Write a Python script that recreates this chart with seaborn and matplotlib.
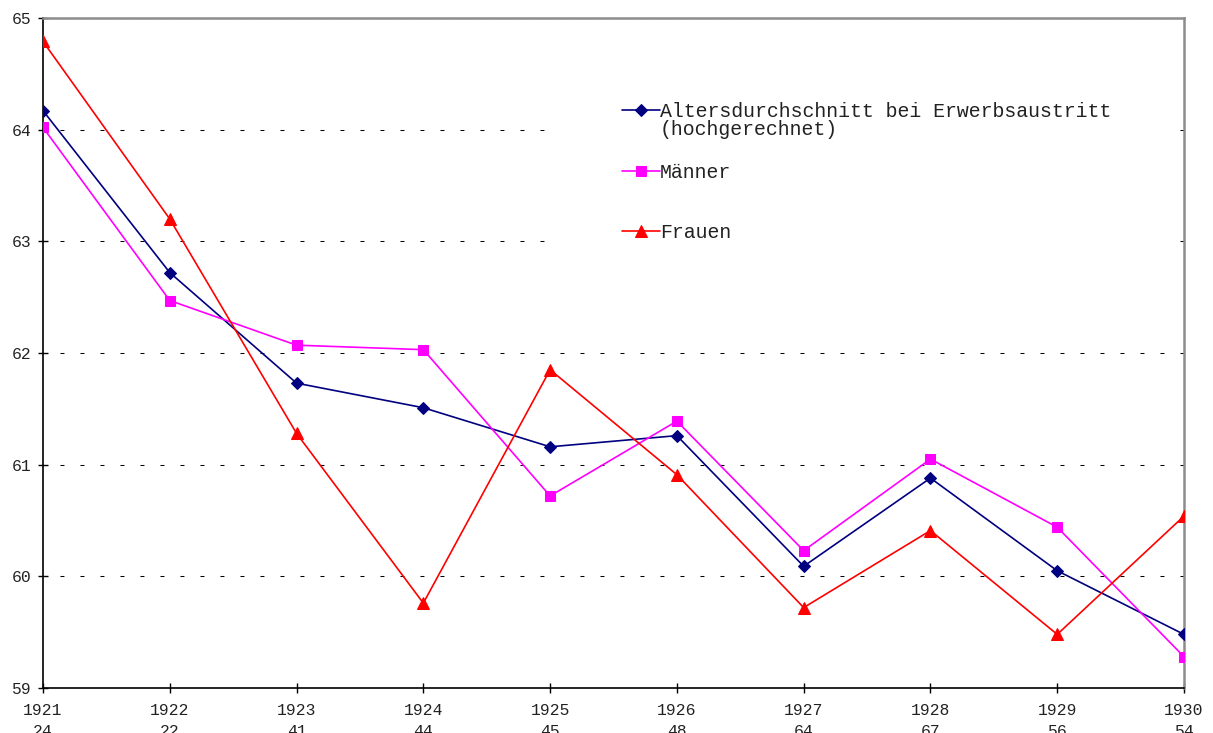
import matplotlib
matplotlib.use("Agg")
import matplotlib.pyplot as plt
from matplotlib.patches import Rectangle
import seaborn as sns
import pandas as pd

years = ["1921", "1922", "1923", "1924", "1925", "1926", "1927", "1928", "1929", "1930"]
counts = ["24", "22", "41", "44", "45", "48", "64", "67", "56", "54"]
durchschnitt = [64.17, 62.72, 61.73, 61.51, 61.16, 61.26, 60.09, 60.88, 60.05, 59.48]
maenner = [64.02, 62.47, 62.07, 62.03, 60.72, 61.39, 60.23, 61.05, 60.44, 59.28]
frauen = [64.79, 63.20, 61.28, 59.76, 61.85, 60.91, 59.72, 60.41, 59.48, 60.54]

labels = [f"{y}\n{c}" for y, c in zip(years, counts)]

sns.set_theme(style="white")
plt.rcParams['font.family'] = ['Liberation Mono', 'DejaVu Sans']

W, H = 1213, 733
fig = plt.figure(figsize=(W / 100, H / 100), dpi=100)
ax = fig.add_axes([43 / W, 1 - 688 / H, (1184 - 43) / W, (688 - 18) / H])

series = [
    ("Altersdurchschnitt bei Erwerbsaustritt", durchschnitt, "#000080", "D", 6),
    ("Männer", maenner, "#FF00FF", "s", 7.5),
    ("Frauen", frauen, "#FF0000", "^", 8),
]
for name, vals, col, mk, ms in series:
    df = pd.DataFrame({"x": labels, "y": vals})
    sns.lineplot(data=df, x="x", y="y", ax=ax, color=col, marker=mk,
                 markersize=ms, markeredgecolor=col, linewidth=1.2,
                 label=name, sort=False, zorder=3)

ax.set_xlim(0, 9)
ax.set_ylim(59, 65)
ax.set_yticks(range(59, 66))
ax.set_xlabel("")
ax.set_ylabel("")

ax.yaxis.grid(True, color="black", linestyle=(2.9, (3.8, 15.4)), linewidth=0.75)
ax.xaxis.grid(False)
ax.set_axisbelow(True)

# white legend background hiding the gridlines behind it
ax.add_patch(Rectangle((558 / W, 1 - 250 / H), (1173 - 558) / W, (250 - 85) / H,
                       transform=fig.transFigure, facecolor="white",
                       edgecolor="none", zorder=1))

for s in ["left", "bottom"]:
    ax.spines[s].set_color("black")
    ax.spines[s].set_linewidth(1.2)
for s in ["top", "right"]:
    ax.spines[s].set_color("#8c8c8c")
    ax.spines[s].set_linewidth(1.8)

ax.tick_params(axis="both", direction="inout", length=7, width=1, color="black",
               labelsize=11.8, labelcolor="#222222")
ax.tick_params(axis="y", pad=5, left=True)
ax.tick_params(axis="x", pad=7.5, bottom=True)
for t in ax.get_xticklabels():
    t.set_linespacing(1.5)

leg = ax.legend(loc="upper left", bbox_to_anchor=(622 / W, 1 - 102 / H),
                bbox_transform=fig.transFigure, frameon=False, fontsize=14.3,
                borderpad=0, borderaxespad=0, handlelength=1.9,
                handletextpad=0.0, labelspacing=2.09)

fig.canvas.draw()
renderer = fig.canvas.get_renderer()
bb = leg.get_texts()[0].get_window_extent(renderer)
fig.text(bb.x0 / W, (bb.y0 - 18) / H, "(hochgerechnet)", fontsize=14.3,
         ha="left", va="bottom", color="#222222")
for t in leg.get_texts():
    t.set_color("#222222")

fig.savefig("out.png", dpi=100)
